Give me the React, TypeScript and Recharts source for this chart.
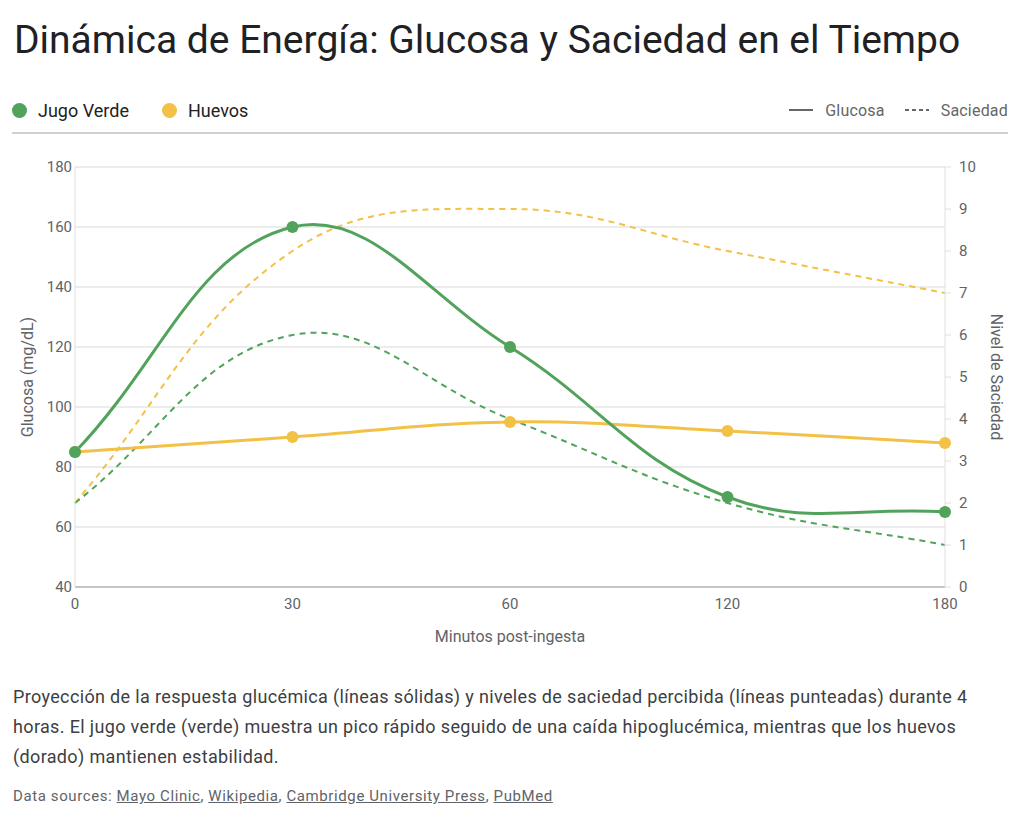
import React from "react";
import { LineChart, Line, XAxis, YAxis, CartesianGrid, Label } from "recharts";

const categories = ["0", "30", "60", "120", "180"];
const glucosaJugo = [85, 160, 120, 70, 65];
const glucosaHuevos = [85, 90, 95, 92, 88];
const saciedadJugo = [2, 6, 4, 2, 1];
const saciedadHuevos = [2, 8, 9, 8, 7];
const leftTicks = [40, 60, 80, 100, 120, 140, 160, 180];
const rightTicks = [0, 1, 2, 3, 4, 5, 6, 7, 8, 9, 10];

const GREEN = "#51a35c";
const YELLOW = "#f2c145";
const FONT = "Roboto, 'Noto Sans', sans-serif";
const AXIS_TEXT = { fill: "#5f6368", fontSize: 15, fontFamily: FONT };

const data = categories.map((c, i) => ({
  t: c,
  gj: glucosaJugo[i],
  gh: glucosaHuevos[i],
  sj: saciedadJugo[i],
  sh: saciedadHuevos[i],
}));

// Tension spline curve (cardinal-like bezier with tension 0.4)
const TENSION = 0.4;
function tensionCurve(context: any) {
  let pts: number[][] = [];
  return {
    areaStart() {},
    areaEnd() {},
    lineStart() {
      pts = [];
    },
    point(x: number, y: number) {
      pts.push([+x, +y]);
    },
    lineEnd() {
      const n = pts.length;
      if (n === 0) return;
      const cps = pts.map((p, i) => {
        const prev = pts[i - 1] || p;
        const next = pts[i + 1] || p;
        const d01 = Math.hypot(p[0] - prev[0], p[1] - prev[1]);
        const d12 = Math.hypot(next[0] - p[0], next[1] - p[1]);
        const sum = d01 + d12 || 1;
        const fa = (TENSION * d01) / sum;
        const fb = (TENSION * d12) / sum;
        return {
          c1: [p[0] - fa * (next[0] - prev[0]), p[1] - fa * (next[1] - prev[1])],
          c2: [p[0] + fb * (next[0] - prev[0]), p[1] + fb * (next[1] - prev[1])],
        };
      });
      context.moveTo(pts[0][0], pts[0][1]);
      for (let i = 1; i < n; i++) {
        const a = cps[i - 1].c2;
        const b = cps[i].c1;
        context.bezierCurveTo(a[0], a[1], b[0], b[1], pts[i][0], pts[i][1]);
      }
    },
  };
}

export default function App() {
  return (
    <div
      style={{
        position: "absolute",
        left: 0,
        top: 0,
        width: 1024,
        height: 822,
        background: "#fff",
        fontFamily: FONT,
        overflow: "hidden",
      }}
    >
      <div
        style={{
          position: "absolute",
          left: 14,
          top: 15,
          fontSize: 39,
          color: "#202124",
          whiteSpace: "nowrap",
          lineHeight: "50px",
        }}
      >
        Dinámica de Energía: Glucosa y Saciedad en el Tiempo
      </div>

      {/* Legend left */}
      <div style={{ position: "absolute", left: 12, top: 99, height: 22, display: "flex", alignItems: "center", fontSize: 18, color: "#202124" }}>
        <span style={{ width: 15, height: 15, borderRadius: "50%", background: GREEN, display: "inline-block", marginRight: 11 }} />
        <span>Jugo Verde</span>
        <span style={{ width: 15, height: 15, borderRadius: "50%", background: YELLOW, display: "inline-block", marginLeft: 33, marginRight: 11 }} />
        <span>Huevos</span>
      </div>

      {/* Legend right */}
      <div style={{ position: "absolute", right: 16, top: 99, height: 22, display: "flex", alignItems: "center", fontSize: 16, color: "#666", letterSpacing: 0.2 }}>
        <svg width={24} height={4} style={{ marginRight: 12 }}>
          <line x1={0} y1={2} x2={24} y2={2} stroke="#666" strokeWidth={2} />
        </svg>
        <span>Glucosa</span>
        <svg width={24} height={4} style={{ marginLeft: 20, marginRight: 12 }}>
          <line x1={0} y1={2} x2={24} y2={2} stroke="#666" strokeWidth={2} strokeDasharray="4 3" />
        </svg>
        <span>Saciedad</span>
      </div>

      <div style={{ position: "absolute", left: 12, top: 132, width: 996, height: 2, background: "#d0d0d0" }} />

      <div style={{ position: "absolute", left: 0, top: 0 }}>
        <LineChart
          width={1024}
          height={660}
          data={data}
          margin={{ top: 167, right: 19, bottom: 13, left: 15 }}
        >
          <CartesianGrid yAxisId="left" vertical={false} stroke="#d9d9d9" />
          <XAxis
            dataKey="t"
            tickLine={false}
            axisLine={{ stroke: "#9e9e9e" }}
            tick={AXIS_TEXT}
            tickMargin={5}
            height={60}
          >
            <Label
              value="Minutos post-ingesta"
              position="insideBottom"
              offset={5}
              style={{ fill: "#5f6368", fontSize: 16, fontFamily: FONT }}
            />
          </XAxis>
          <YAxis
            yAxisId="left"
            domain={[40, 180]}
            ticks={leftTicks}
            tickLine={false}
            tickSize={3}
            axisLine={{ stroke: "#e0e0e0" }}
            tick={AXIS_TEXT}
            tickMargin={0}
            width={60}
          >
            <Label
              value="Glucosa (mg/dL)"
              angle={-90}
              position="insideLeft"
              offset={12}
              style={{ fill: "#5f6368", fontSize: 16, fontFamily: FONT, textAnchor: "middle" }}
            />
          </YAxis>
          <YAxis
            yAxisId="right"
            orientation="right"
            domain={[0, 10]}
            ticks={rightTicks}
            tickLine={{ stroke: "#e0e0e0" }}
            tickSize={6}
            axisLine={{ stroke: "#e0e0e0" }}
            tick={AXIS_TEXT}
            tickMargin={8}
            width={60}
          >
            <Label
              value="Nivel de Saciedad"
              angle={90}
              position="insideRight"
              offset={8}
              style={{ fill: "#5f6368", fontSize: 16, fontFamily: FONT, textAnchor: "middle" }}
            />
          </YAxis>
          <Line
            yAxisId="right"
            type={tensionCurve as any}
            dataKey="sh"
            stroke={YELLOW}
            strokeWidth={2}
            strokeDasharray="6 5"
            dot={false}
            activeDot={false}
            isAnimationActive={false}
          />
          <Line
            yAxisId="right"
            type={tensionCurve as any}
            dataKey="sj"
            stroke={GREEN}
            strokeWidth={2}
            strokeDasharray="6 5"
            dot={false}
            activeDot={false}
            isAnimationActive={false}
          />
          <Line
            yAxisId="left"
            type={tensionCurve as any}
            dataKey="gh"
            stroke={YELLOW}
            strokeWidth={3}
            dot={{ r: 6, fill: YELLOW, stroke: YELLOW, strokeWidth: 0 }}
            activeDot={false}
            isAnimationActive={false}
          />
          <Line
            yAxisId="left"
            type={tensionCurve as any}
            dataKey="gj"
            stroke={GREEN}
            strokeWidth={3}
            dot={{ r: 6, fill: GREEN, stroke: GREEN, strokeWidth: 0 }}
            activeDot={false}
            isAnimationActive={false}
          />
        </LineChart>
      </div>

      <div
        style={{
          position: "absolute",
          left: 13,
          top: 682,
          width: 990,
          fontSize: 18,
          lineHeight: "30px",
          letterSpacing: 0.35,
          color: "#3c4043",
        }}
      >
        Proyección de la respuesta glucémica (líneas sólidas) y niveles de saciedad percibida (líneas punteadas) durante 4 horas. El jugo verde (verde) muestra un pico rápido seguido de una caída hipoglucémica, mientras que los huevos (dorado) mantienen estabilidad.
      </div>

      <div style={{ position: "absolute", left: 13, top: 787, fontSize: 15, letterSpacing: 0.6, color: "#5f6368", whiteSpace: "nowrap" }}>
        Data sources: <u>Mayo Clinic</u>, <u>Wikipedia</u>, <u>Cambridge University Press</u>, <u>PubMed</u>
      </div>
    </div>
  );
}
